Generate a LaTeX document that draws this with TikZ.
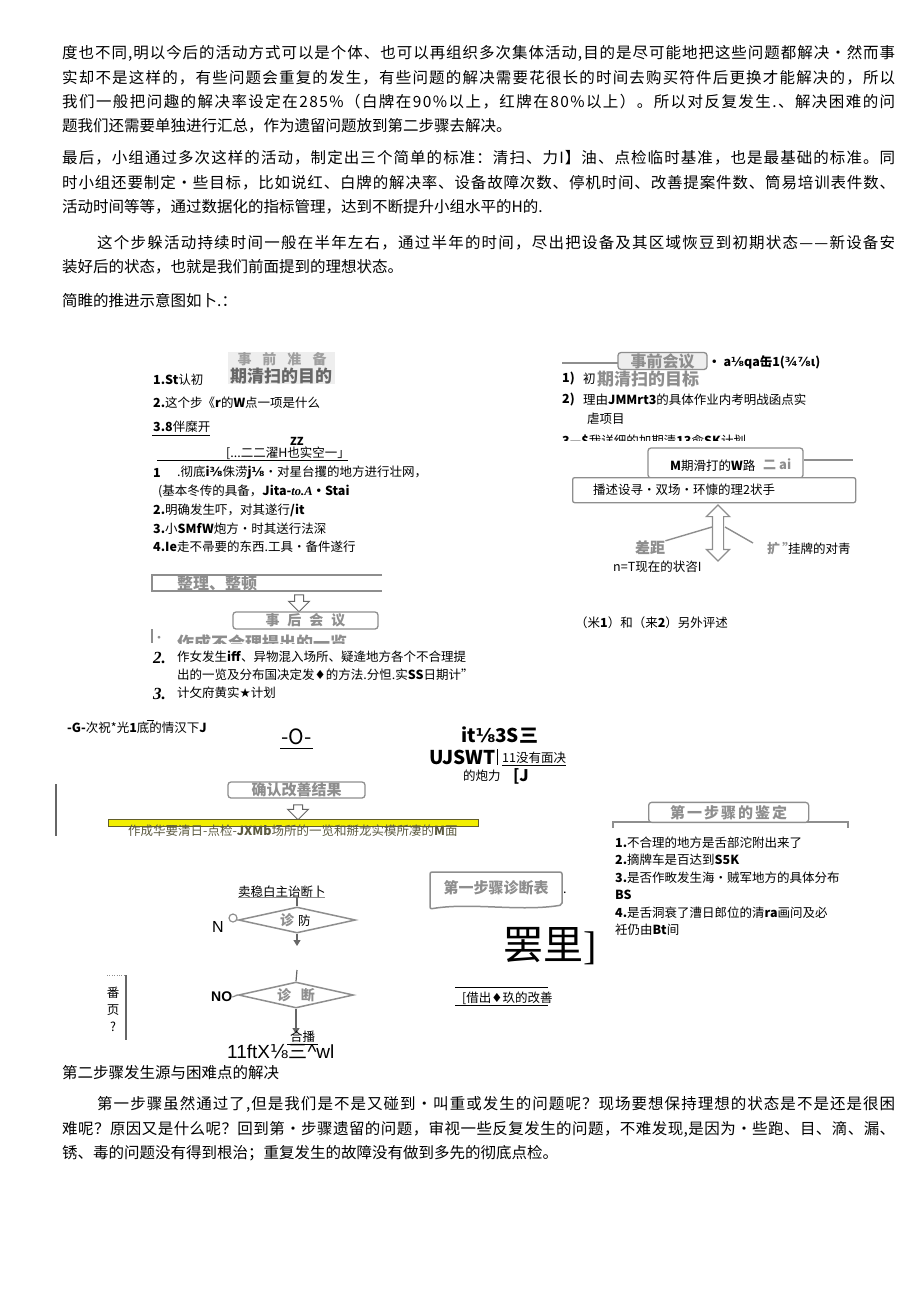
\documentclass[tikz,border=0pt]{standalone}
\usepackage{fontspec}
\setmainfont{Noto Sans CJK SC}
\newfontfamily\sansL{Liberation Sans}
\newfontfamily\serifL{Liberation Serif}
\newfontfamily\symb{DejaVu Sans}
\usepackage{tikz}
\usetikzlibrary{arrows.meta,positioning,calc,shapes.geometric,shapes.arrows}
\definecolor{grisC}{HTML}{8E8E8E}
\definecolor{grisF}{HTML}{666666}
\definecolor{jauneM}{HTML}{F2EE00}
\definecolor{oliveT}{HTML}{5C5A40}
% espacement regulier entre les caracteres d'une ligne justifiee
\let\finE\relax
\def\etale#1{#1\etaleB}
\def\etaleB#1{\ifx\finE#1\else\hfil#1\expandafter\etaleB\fi}
\newcommand{\ligne}[2]{\hbox to #1{\etale #2\finE}}
\tikzset{
  corps/.style={anchor=base west, inner sep=0pt, font=\fontsize{15.5}{24}\selectfont},
  txt/.style={anchor=west, inner sep=0pt, font=\fontsize{12.5}{15}\selectfont},
  gris/.style={txt, text=grisC, font=\fontsize{#1}{#1}\selectfont\bfseries},
  gris/.default=16,
  cadre/.style={draw=grisC, line width=1.3pt, rounded corners=3pt, fill=white, inner sep=0pt},
  fleche/.style={single arrow, draw=grisF, line width=1pt, fill=white, rotate=-90,
                 inner sep=4pt, single arrow head extend=6pt, minimum height=17pt},
  losange/.style={diamond, draw=grisC, line width=1.5pt, inner sep=0pt, aspect=4.5},
  arr/.style={-{Triangle[length=6pt,width=7pt]}, line width=1.2pt, draw=grisF},
}

\begin{document}
\begin{tikzpicture}[x=1pt,y=-1pt]
  \useasboundingbox (0,0) rectangle (920,1301);
  \fill[white] (0,0) rectangle (920,1301);

  % texte courant, haut de page
  \node[corps] (p1a) at (62,58) {\ligne{833pt}{度也不同,明以今后的活动方式可以是个体、也可以再组织多次集体活动,目的是尽可能地把这些问题都解决·然而事}};
  \node[corps] (p1b) at (62,83) {\ligne{833pt}{实却不是这样的，有些问题会重复的发生，有些问题的解决需要花很长的时间去购买符件后更换才能解决的，所以}};
  \node[corps] (p1c) at (62,107) {\ligne{833pt}{我们一般把问趣的解决率设定在285\%（白牌在90\%以上，红牌在80\%以上）。所以对反复发生.、解决困难的问}};
  \node[corps] (p1d) at (62,131) {题我们还需要单独进行汇总，作为遗留问题放到第二步骤去解决。};
  \node[corps] (p2a) at (62,163) {\ligne{833pt}{最后，小组通过多次这样的活动，制定出三个简单的标准：清扫、力I】油、点检临时基准，也是最基础的标准。同}};
  \node[corps] (p2b) at (62,188) {\ligne{833pt}{时小组还要制定•些目标，比如说红、白牌的解决率、设备故障次数、停机时间、改善提案件数、筒易培训表件数、}};
  \node[corps] (p2c) at (62,212) {活动时间等等，通过数据化的指标管理，达到不断提升小组水平的H的.};
  \node[corps] (p3a) at (97,248) {\ligne{798pt}{这个步躲活动持续时间一般在半年左右，通过半年的时间，尽出把设备及其区域恢豆到初期状态——新设备安}};
  \node[corps] (p3b) at (62,272) {装好后的状态，也就是我们前面提到的理想状态。};
  \node[corps] (p4) at (62,306) {简睢的推进示意图如卜.：};

  % bloc gauche :事前准备
  \node[fill=gray!13, minimum width=107pt, minimum height=32pt, inner sep=0pt, anchor=north west] (pfond) at (228,352) {};
  \node[gris=14, anchor=center, text=grisC!85] (pA) at (282,359) {事\hspace{11pt}前\hspace{11pt}准\hspace{11pt}备};
  \node[gris=17, anchor=center, text=grisF] (pB) at (281,376) {期清扫的目的};
  \node[txt] (a1) at (153,380) {\textbf{1.St}认初};
  \node[txt] (a2) at (153,403) {\textbf{2.}这个步《\textbf{r}的\textbf{W}点一项是什么};
  \node[txt] (a3) at (153,427) {\textbf{3.8}伴糜开};
  \draw[line width=0.6pt] ($(a3.south west)+(-1,2)$) -- ++(58,0);
  \node[txt, font=\fontsize{11}{12}\selectfont\bfseries] (a4z) at (290,441) {ZZ};
  \node[txt] (a4) at (226,453) {[...二二濯H也实空一」};
  \draw[line width=0.7pt] (157,460) -- (348,460);
  \node[txt, font=\fontsize{12.5}{15}\selectfont\bfseries] (b1n) at (153,473) {1};
  \node[txt] (b1) at (177,473) {.彻底\textbf{i{\symb\bfseries ⅜}}侏涝\textbf{j{\symb\bfseries ⅛}}•对星台攫的地方进行壮网，};
  \node[txt] (b1s) at (158,491) {(基本冬传的具备，\textbf{Jita-}{\serifL\bfseries\itshape to.A}\textbf{•Stai}};
  \node[txt] (b2) at (153,510) {\textbf{2.}明确发生吓，对其遂行\textbf{/it}};
  \node[txt] (b3) at (153,529) {\textbf{3.}小\textbf{SMfW}炮方•时其送行法深};
  \node[txt] (b4) at (153,547) {\textbf{4.Ie}走不帚要的东西.工具•备件遂行};

  % 整理、整顿 -> 事后会议
  \draw[grisC, line width=1.2pt] (382,575) -- (152,575) -- (152,591) -- (382,591);
  \node[gris=16] (c1) at (177,583) {整理、整顿};
  \node[fleche] (c2) at (299,601) {};
  \node[cadre, minimum width=145pt, minimum height=17pt, text=grisC, font=\fontsize{14}{14}\selectfont\bfseries] (c3) at (305.5,620.5) {事\hspace{8pt}后\hspace{8pt}会\hspace{8pt}议};
  \begin{scope}
    \clip (140,629) rectangle (400,643);
    \node[gris=17] (c4) at (177,643) {作成不合理提出的一览};
  \end{scope}
  \node[gris=10] (c4p) at (154,639) {•};
  \draw[grisC, line width=1.2pt] (152,629) -- (152,643);
  \node[txt, font=\fontsize{17}{18}\serifL\bfseries\itshape] (d2n) at (153,658) {2.};
  \node[txt] (d2) at (177,657) {作女发生\textbf{iff}、异物混入场所、疑逄地方各个不合理提};
  \node[txt] (d2b) at (177,675) {出的一览及分布国决定发{\symb ♦}的方法.分怛.实\textbf{SS}日期计”};
  \node[txt, font=\fontsize{17}{18}\serifL\bfseries\itshape] (d3n) at (153,694) {3.};
  \node[txt] (d3) at (177,693) {计攵府黄实{\symb ★}计划};

  % ligne du milieu
  \node[txt] (e1) at (67,728) {\textbf{-G-}次祝*光\textbf{1}底的情汉下\textbf{J}};
  \draw[line width=0.6pt] (147,720) -- (154,720);
  \node[txt, font=\fontsize{21}{22}\selectfont] (e2) at (281,737) {-O-};
  \draw[line width=0.8pt] ($(e2.south west)+(-1,3)$) -- ($(e2.south east)+(1,3)$);
  \node[txt, font=\fontsize{19}{20}\selectfont\bfseries] (e3) at (461,735) {it{\symb\bfseries ⅛}3S三};
  \node[txt, font=\fontsize{19}{20}\selectfont\bfseries] (e4) at (429,757) {UJSWT};
  \draw[line width=0.6pt] (497,749) -- (497,765);
  \node[txt] (e5) at (502,758) {11没有面决};
  \draw[line width=0.6pt] ($(e5.south west)+(0,1)$) -- ($(e5.south east)+(0,1)$);
  \node[txt] (e6) at (463,776) {的炮力};
  \node[txt, font=\fontsize{16}{17}\selectfont\bfseries] (e7) at (513,776) {[J};

  % 确认改善结果
  \draw[grisF, line width=2pt] (56,784) -- (56,836);
  \node[cadre, minimum width=137pt, minimum height=16pt, text=grisC, font=\fontsize{15}{15}\selectfont\bfseries] (f1) at (296.5,790) {确认改善结果};
  \node[fleche, minimum height=15pt] (f2) at (298,810) {};
  \node[fill=jauneM, draw=olive!60!black, line width=0.8pt, minimum width=370pt, minimum height=7pt, inner sep=0pt] (f3) at (293,822.5) {};
  \node[txt, text=oliveT] (f4) at (128,831) {作成华要清日-点检-\textbf{JXMb}场所的一览和掰龙实模所凄的\textbf{M}面};

  % bloc droit : 事前会议
  \draw[grisC, line width=1.2pt] (562,363) -- (618,363);
  \node[cadre, fill=gray!13, minimum width=89pt, minimum height=17pt, text=grisC, font=\fontsize{16}{16}\selectfont\bfseries] (g1) at (662.5,361) {事前会议};
  \node[txt, font=\fontsize{12.5}{15}\selectfont\bfseries] (g2) at (708,362) {· a{\symb\bfseries ⅛}qa缶1({\symb\bfseries ¾⅞}ι)};
  \node[txt, font=\fontsize{12.5}{15}\selectfont\bfseries] (g3n) at (562,379) {1)};
  \node[txt] (g3) at (583,379) {初};
  \node[gris=17] (g3g) at (597,379) {期清扫的目标};
  \node[txt, font=\fontsize{12.5}{15}\selectfont\bfseries] (g4n) at (562,400) {2)};
  \node[txt] (g4) at (583,400) {理由\textbf{JMMrt3}的具体作业内考明战函点实};
  \node[txt] (g4b) at (587,419) {虐项目};
  \begin{scope}
    \clip (550,428) rectangle (870,440);
    \node[txt] (g5) at (562,441) {\textbf{3—\$}我详细的加期清\textbf{13}兪\textbf{SK}计划};
  \end{scope}
  \node[cadre, minimum width=155pt, minimum height=30pt] (h1) at (725.5,463) {};
  \draw[grisC, line width=1.2pt] ($(h1.east)+(0,-3)$) -- (853,460);
  \node[txt] (h1t) at (670,466) {\textbf{M}期滑打的\textbf{W}路};
  \node[gris=13] (h1g) at (763,464) {二 ai};
  \node[cadre, rounded corners=2pt, minimum width=283pt, minimum height=25pt, anchor=north west] (h2) at (572,477) {};
  \node[txt] (h2t) at (593,490) {播述设寻•双场·环慷的理2状手};
  \node[gris=15] (h4) at (635,548) {差距};
  \node[gris=13] (h5) at (767,549) {扩\,"};
  \node[txt] (h6) at (788,549) {挂牌的对靑};
  \coordinate (h3l) at (712,527);
  \coordinate (h3r) at (725,527);
  \coordinate (h5l) at (753,543);
  \draw[grisC, line width=1.4pt] (h4.north east) -- (h3l);
  \draw[grisC, line width=1.4pt] (h3r) -- (h5l);
  \node[double arrow, draw=grisC, line width=1.2pt, fill=white, rotate=90, minimum height=56pt,
        inner sep=5pt, double arrow head extend=6pt] (h3) at (718,533) {};
  \node[txt] (h7) at (613,567) {n=T现在的状咨I};
  \node[txt] (h8) at (575,623) {（米\textbf{1}）和（来\textbf{2}）另外评述};

  % 第一步骤的鉴定
  \draw[grisC, line width=1.5pt] (613,828) -- (613,822) -- (848,822) -- (848,828);
  \node[cadre, minimum width=160pt, minimum height=20pt, anchor=south west, text=grisC, font=\fontsize{15}{15}\selectfont\bfseries] (k1) at (648,823) {第\hspace{2pt}一\hspace{2pt}步\hspace{2pt}骤\hspace{2pt}的\hspace{2pt}鉴\hspace{2pt}定};
  \node[txt] (k2) at (615,843) {\textbf{1.}不合理的地方是舌部沱附出来了};
  \node[txt] (k3) at (615,860) {\textbf{2.}摘牌车是百达到\textbf{S5K}};
  \node[txt] (k4) at (615,878) {\textbf{3.}是否作畋发生海•贼军地方的具体分布};
  \node[txt] (k5) at (615,895) {\textbf{BS}};
  \node[txt] (k6) at (615,913) {\textbf{4.}是舌洞衰了漕日郎位的清\textbf{ra}画问及必};
  \node[txt] (k7) at (615,930) {衽仍由\textbf{Bt}间};

  % diagnostic
  \node[txt] (m0) at (238,892) {卖稳白主诒断卜};
  \draw[grisC, line width=0.6pt] (238,897) -- (325,897);
  \coordinate (m1top) at (297,897);
  \node[losange, minimum width=117pt, minimum height=26pt] (m1) at (297,920) {};
  \node[gris=14] (m1t) at (280,920) {诊};
  \node[txt] (m1d) at (298,921) {防};
  \draw[grisF, line width=1.2pt] (m1top) -- (m1.north);
  \node[circle, draw=grisC, line width=1.2pt, minimum size=8pt, inner sep=0pt, fill=white] (m1c) at (233,918) {};
  \draw[grisC, line width=1.2pt] (m1c) -- (m1.west);
  \node[txt, font=\fontsize{16}{17}\sansL] (m1n) at (212,927) {N};
  \coordinate (m1bas) at (297,946);
  \draw[arr] (m1.south) -- (m1bas);
  \coordinate (m2top) at (297,970);
  \node[losange, minimum width=115pt, minimum height=26pt] (m2) at (296,995) {};
  \node[gris=14, anchor=center] (m2t) at (296,995) {诊\hspace{10pt}断};
  \draw[grisF, line width=1.2pt] (m2top) -- (m2.north);
  \node[txt, font=\fontsize{14}{15}\sansL\bfseries] (m2n) at (211,997) {NO};
  \draw[grisC, line width=1.2pt] (m2n.east) -- (m2.west);
  \coordinate (m2bas) at (296,1034);
  \draw[arr] (m2.south) -- (m2bas);
  \node[txt] (m3) at (290,1037) {合播};
  \draw[line width=0.6pt] ($(m3.south west)+(-3,1)$) -- ($(m3.south east)+(3,1)$);
  \node[txt, font=\fontsize{19}{20}\sansL] (m4) at (227,1052) {11ftX{\symb ⅛}{\fontsize{19}{20}\selectfont\rmfamily 三}\textasciicircum wl};

  % 第一步骤诊断表
  \node[gris=15, anchor=center] (n1) at (496,888) {第一步骤诊断表};
  \draw[grisC, line width=1.5pt, rounded corners=2pt] (430,872) -- (562,872) -- (562,905)
    .. controls (520,912) and (470,902) .. (430,909) -- cycle;
  \node[txt] (n1p) at (563,893) {.};
  \node[txt, font=\fontsize{40}{42}\selectfont] (n2) at (503,946) {罢里{\serifL ]}};
  \draw[line width=0.6pt] (455,987) -- (548,987);
  \node[txt] (n3) at (462,998) {[借出{\symb ♦}玖的改善};
  \draw[line width=0.6pt] (455,1005) -- (548,1005);

  % colonne 番页?
  \draw[grisF, line width=1.2pt] (126,975) -- (126,1040);
  \draw[grisC, dotted] (107,975) -- (125,975);
  \node[txt, anchor=north, align=center, font=\fontsize{12.5}{17}\selectfont] (q0) at (113,987) {番\\页\\?};

  % texte courant, bas de page
  \node[corps] (s0) at (62,1078) {第二步骤发生源与困难点的解决};
  \node[corps] (s1) at (97,1109) {\ligne{798pt}{第一步骤虽然通过了,但是我们是不是又碰到•叫重或发生的问题呢？现场要想保持理想的状态是不是还是很困}};
  \node[corps] (s2) at (62,1134) {\ligne{833pt}{难呢？原因又是什么呢？回到第•步骤遗留的问题，审视一些反复发生的问题，不难发现,是因为•些跑、目、滴、漏、}};
  \node[corps] (s3) at (62,1158) {锈、毒的问题没有得到根治；重复发生的故障没有做到多先的彻底点检。};
\end{tikzpicture}
\end{document}
